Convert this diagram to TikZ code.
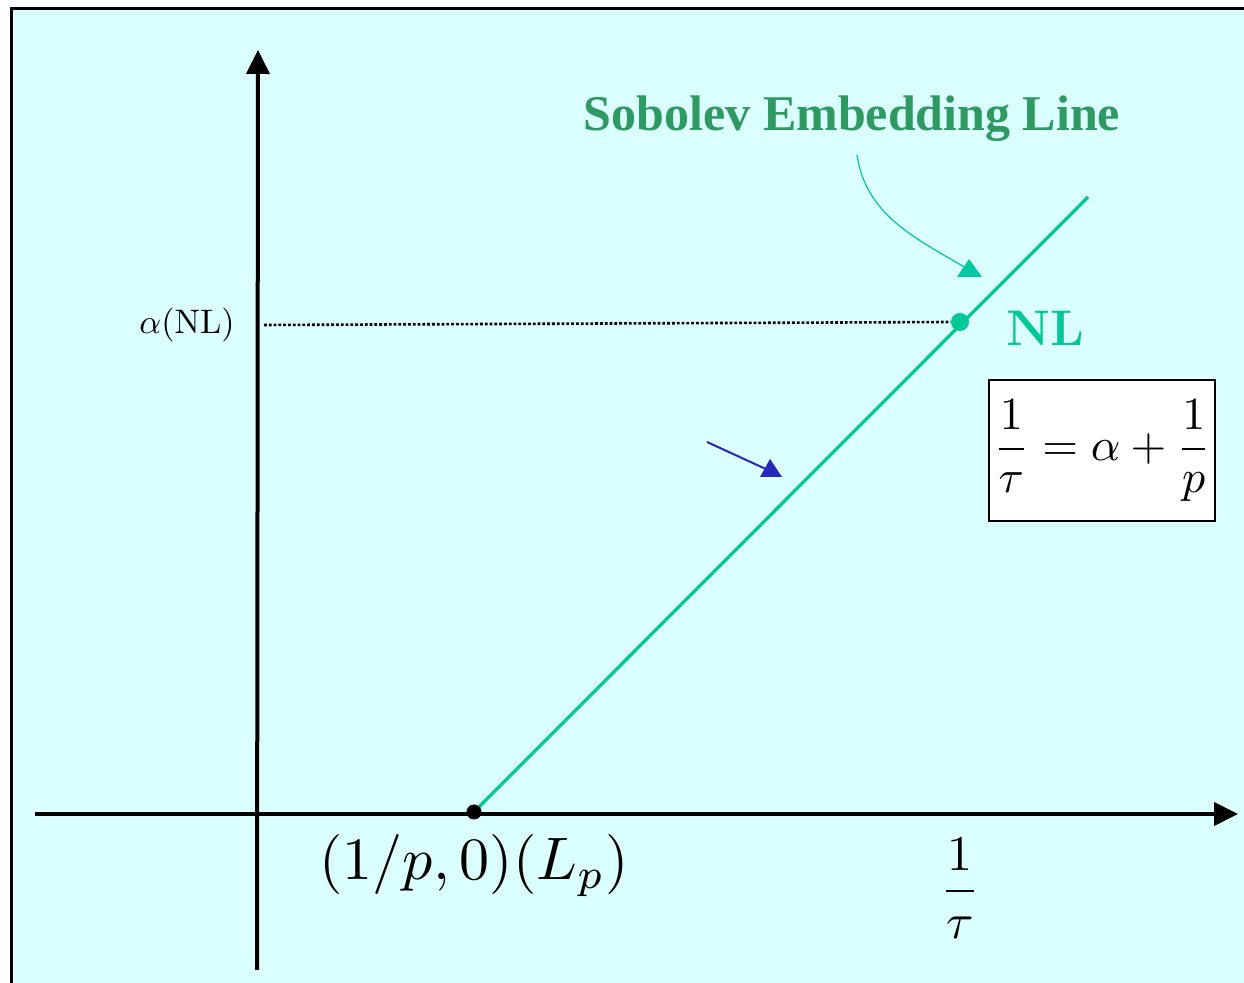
\documentclass[tikz,border=0pt]{standalone}
\usepackage{fontspec}
\newfontfamily\titlefont{Liberation Serif}
\usetikzlibrary{arrows.meta}
\definecolor{bgcyan}{RGB}{219,254,254}
\definecolor{lineGreen}{RGB}{0,200,150}
\definecolor{titleGreen}{RGB}{46,153,96}
\definecolor{arrowGreen}{RGB}{0,200,160}
\definecolor{arrowBlue}{RGB}{40,40,190}
\tikzset{
  axis/.style={line width=2pt,-{Triangle[length=12pt,width=11.5pt]}},
  embline/.style={lineGreen,line width=1.6pt},
  blackdot/.style={circle,fill=black,inner sep=0pt,minimum size=7.5pt},
  greendot/.style={circle,fill=lineGreen,inner sep=0pt,minimum size=9pt},
  guide/.style={dash pattern=on 1.4pt off 1pt,line width=1.3pt},
  lbl/.style={inner sep=0pt},
  formulabox/.style={draw,fill=white,line width=1pt,minimum width=113pt,minimum height=70.5pt,inner sep=0pt},
  thinarrow/.style={line width=0.6pt}
}
\begin{document}
\begin{tikzpicture}[x=0.5pt,y=-0.5pt]
\useasboundingbox (0,0) rectangle (1244,983);
% background and frame
\fill[bgcyan] (11,9) rectangle (1244,983);
\draw[line width=1.5pt] (11,983) -- (11,9) -- (1244,9);
% axes
\coordinate (ybot) at (257,970);
\coordinate (ytop) at (258,50);
\coordinate (xl) at (35,814);
\coordinate (xr) at (1238,814);
\draw[axis] (ybot) -- (ytop);
\draw[axis] (xl) -- (xr);
% embedding line
\coordinate (Pc) at (474,812);
\coordinate (Lend) at (1088,197);
\draw[embline] (Pc) -- (Lend);
\node[blackdot] (P) at (Pc) {};
\node[greendot] (NLdot) at (960,322) {};
% dotted guide
\node[lbl] (alab) at (187,325) {\scalebox{1.7}{$\alpha(\mathrm{NL})$}};
\coordinate (gstart) at (264,325);
\draw[guide] (gstart) -- (NLdot.west);
% labels
\node[lbl] (plab) at (474,866) {\scalebox{3}{$(1/p,0)(L_p)$}};
\node[lbl] (taulab) at (960,888) {\scalebox{2.5}{$\displaystyle\frac{1}{\tau}$}};
\node[lbl,text=lineGreen] (NL) at (1045,328) {\fontsize{25}{30}\selectfont\bfseries NL};
\node[lbl,text=titleGreen] (title) at (852,119) {\fontsize{25}{30}\selectfont\titlefont\bfseries Sobolev Embedding Line};
\node[formulabox] (box) at (1102,450.5) {\scalebox{2.3}{$\displaystyle\frac{1}{\tau}=\alpha+\frac{1}{p}$}};
% curved green arrow
\coordinate (cstart) at (857,155);
\coordinate (cend) at (966,268);
\draw[arrowGreen,thinarrow] (cstart) .. controls (866,215) and (915,238) .. (cend);
\fill[arrowGreen] (969,259) -- (982,277) -- (957,277) -- cycle;
% blue arrow
\coordinate (bstart) at (707,442);
\coordinate (bend) at (768,470);
\draw[arrowBlue,line width=1pt] (bstart) -- (bend);
\fill[arrowBlue] (770,459) -- (782,477) -- (760,477) -- cycle;
\end{tikzpicture}
\end{document}
